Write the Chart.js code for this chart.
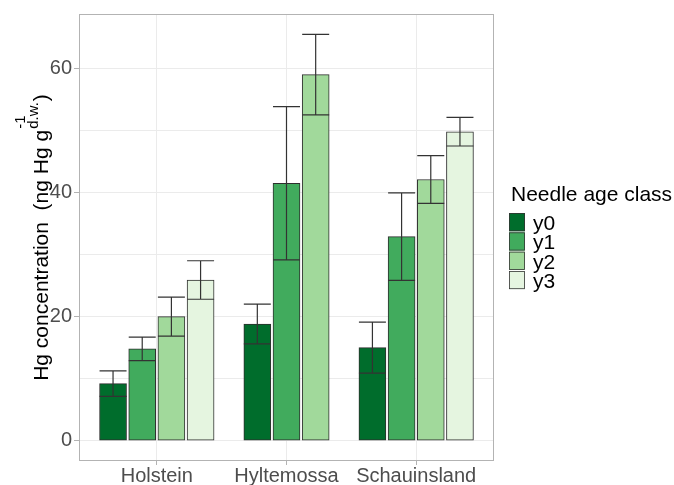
<!DOCTYPE html>
<html>
<head>
<meta charset="utf-8">
<script src="https://cdn.jsdelivr.net/npm/chart.js@4/dist/chart.umd.min.js"></script>
<style>
  html, body { margin: 0; padding: 0; background: #ffffff; }
  #wrap { width: 674px; height: 485px; position: relative; }
</style>
</head>
<body>
<div id="wrap"><canvas id="chart" width="674" height="485"></canvas></div>
<script>
// Sites and needle age classes
const categories = ['Holstein', 'Hyltemossa', 'Schauinsland'];
const ageClasses = ['y0', 'y1', 'y2', 'y3'];

// Mean Hg concentration per site (ng Hg g-1 d.w.); null = no sample
const meanY0 = [9.2, 18.8, 15.0];
const meanY1 = [14.8, 41.5, 32.9];
const meanY2 = [20.0, 59.0, 42.1];
const meanY3 = [25.9, null, 49.8];

// Standard deviations
const sdY0 = [2.05, 3.2, 4.1];
const sdY1 = [1.9, 12.35, 7.05];
const sdY2 = [3.15, 6.5, 3.85];
const sdY3 = [3.1, null, 2.3];

// Axis tick labels
const yTickLabels = [0, 20, 40, 60];

const seriesMeans = [meanY0, meanY1, meanY2, meanY3];
const seriesSds = [sdY0, sdY1, sdY2, sdY3];
const fillColors = ['#006d2c', '#41ab5d', '#a1d99b', '#e5f5e0'];

const FONT = "'Liberation Sans', Arial, Helvetica, sans-serif";
const DODGE = 0.225;        // slot width of one bar inside a group (x units)
const BAR_PX = 27;          // drawn bar thickness

Chart.defaults.font.family = FONT;

// Dodge bars that exist at each site, centred on the site position
const datasets = ageClasses.map((name, s) => {
  const points = [];
  categories.forEach((cat, i) => {
    const present = seriesMeans.map(m => m[i]).map((v, k) => v === null ? -1 : k).filter(k => k >= 0);
    const k = present.indexOf(s);
    if (k < 0) return;
    const n = present.length;
    points.push({ x: (i + 1) + (k - (n - 1) / 2) * DODGE, y: seriesMeans[s][i], sd: seriesSds[s][i] });
  });
  return {
    label: name,
    data: points,
    backgroundColor: fillColors[s],
    borderColor: '#2e2e2e',
    borderWidth: 1,
    borderSkipped: false,
    grouped: false,
    barThickness: BAR_PX
  };
});

// y range: data span (incl. error bars) expanded by 5 % on both ends
let dataTop = 0;
seriesMeans.forEach((m, s) => m.forEach((v, i) => { if (v !== null) dataTop = Math.max(dataTop, v + seriesSds[s][i]); }));
const yMin = -0.05 * dataTop;
const yMax = dataTop * 1.05;

const errorBars = {
  id: 'errorBars',
  afterDatasetsDraw(chart) {
    const ctx = chart.ctx;
    const yScale = chart.scales.y;
    ctx.save();
    ctx.strokeStyle = '#333333';
    ctx.lineWidth = 1.2;
    chart.data.datasets.forEach((ds, di) => {
      const meta = chart.getDatasetMeta(di);
      meta.data.forEach((bar, j) => {
        const p = ds.data[j];
        const half = bar.width / 2;
        const yHi = yScale.getPixelForValue(p.y + p.sd);
        const yLo = yScale.getPixelForValue(p.y - p.sd);
        ctx.beginPath();
        ctx.moveTo(bar.x, yHi); ctx.lineTo(bar.x, yLo);
        ctx.moveTo(bar.x - half, yHi); ctx.lineTo(bar.x + half, yHi);
        ctx.moveTo(bar.x - half, yLo); ctx.lineTo(bar.x + half, yLo);
        ctx.stroke();
      });
    });
    ctx.restore();
  }
};

const panelBorder = {
  id: 'panelBorder',
  beforeDatasetsDraw(chart) {
    const a = chart.chartArea;
    const ctx = chart.ctx;
    ctx.save();
    ctx.strokeStyle = '#b3b3b3';
    ctx.lineWidth = 1;
    ctx.strokeRect(Math.round(a.left) + 0.5, Math.round(a.top) + 0.5,
                   Math.round(a.right - a.left) - 1, Math.round(a.bottom - a.top) - 1);
    ctx.restore();
  }
};

const axisTitle = {
  id: 'axisTitle',
  afterDraw(chart) {
    const ctx = chart.ctx;
    const a = chart.chartArea;
    const main = 'Hg concentration  (ng Hg g';
    const sup = '-1';
    const sub = 'd.w.';
    const close = ')';
    ctx.save();
    ctx.fillStyle = '#000000';
    ctx.textBaseline = 'alphabetic';
    ctx.textAlign = 'left';
    const bigFont = '21px ' + FONT;
    const smallFont = '15px ' + FONT;
    ctx.font = bigFont;
    const wMain = ctx.measureText(main).width;
    const wClose = ctx.measureText(close).width;
    ctx.font = smallFont;
    const wScript = Math.max(ctx.measureText(sup).width, ctx.measureText(sub).width);
    const total = wMain + wScript + wClose + 2;
    ctx.translate(48, (a.top + a.bottom) / 2);
    ctx.rotate(-Math.PI / 2);
    let x = -total / 2;
    ctx.font = bigFont;
    ctx.fillText(main, x, 0);
    x += wMain + 1;
    ctx.font = smallFont;
    ctx.fillText(sup, x, -23);
    ctx.fillText(sub, x, -10);
    x += wScript + 1;
    ctx.font = bigFont;
    ctx.fillText(close, x, 0);
    ctx.restore();
  }
};

const legendBox = {
  id: 'legendBox',
  afterDraw(chart) {
    const ctx = chart.ctx;
    const left = 511;
    ctx.save();
    ctx.fillStyle = '#000000';
    ctx.textAlign = 'left';
    ctx.textBaseline = 'alphabetic';
    ctx.font = '21px ' + FONT;
    ctx.fillText('Needle age class', left, 201);
    const keyTop = 213;
    const step = 19.3;
    ageClasses.forEach((name, s) => {
      const y = keyTop + s * step;
      ctx.fillStyle = fillColors[s];
      ctx.fillRect(509, y, 16, step - 1);
      ctx.strokeStyle = '#333333';
      ctx.lineWidth = 0.8;
      ctx.strokeRect(509.5, y + 0.5, 15, step - 2);
      ctx.fillStyle = '#000000';
      ctx.font = '21px ' + FONT;
      ctx.fillText(name, 533, y + step / 2 + 7.5);
    });
    ctx.restore();
  }
};

new Chart(document.getElementById('chart'), {
  type: 'bar',
  data: { datasets },
  options: {
    responsive: false,
    animation: false,
    layout: { padding: { left: 0, top: 11, right: 180, bottom: 0 } },
    plugins: { legend: { display: false }, tooltip: { enabled: false } },
    scales: {
      x: {
        type: 'linear',
        min: 0.4,
        max: 3.6,
        offset: false,
        border: { display: false },
        grid: { offset: false, color: '#ebebeb', lineWidth: 1, tickLength: 4, tickColor: '#b3b3b3' },
        ticks: {
          stepSize: 1,
          includeBounds: false,
          autoSkip: false,
          maxRotation: 0,
          padding: -1,
          color: '#4d4d4d',
          font: { size: 20, family: FONT },
          callback: v => Number.isInteger(v) ? categories[v - 1] : ''
        },
        afterFit: s => { s.height = 24; }
      },
      y: {
        type: 'linear',
        min: yMin,
        max: yMax,
        border: { display: false },
        grid: {
          color: '#ebebeb',
          lineWidth: 1,
          tickLength: 5,
          tickColor: c => (c.tick && yTickLabels.includes(c.tick.value)) ? '#b3b3b3' : 'rgba(0,0,0,0)'
        },
        ticks: {
          stepSize: 10,
          includeBounds: false,
          padding: 2,
          color: '#4d4d4d',
          font: { size: 20, family: FONT },
          callback: v => yTickLabels.includes(v) ? String(v) : ''
        },
        afterFit: s => { s.width = 79; }
      }
    }
  },
  plugins: [panelBorder, errorBars, axisTitle, legendBox]
});
</script>
</body>
</html>
